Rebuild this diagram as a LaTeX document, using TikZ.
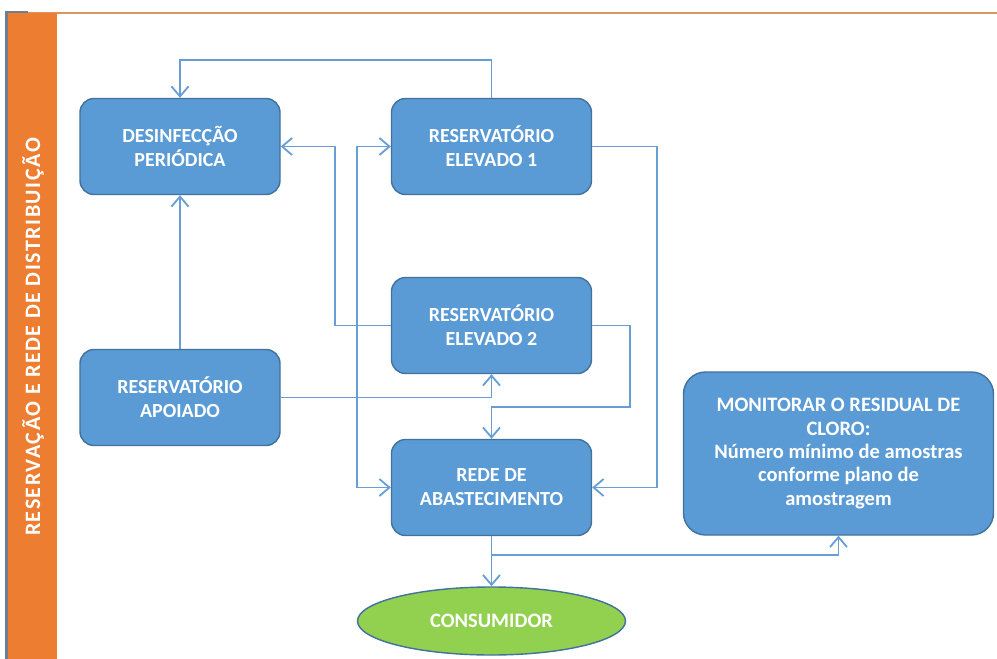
\documentclass[tikz,border=0pt]{standalone}
\usepackage{fontspec}
\setmainfont{Carlito}
\usetikzlibrary{arrows.meta,shapes.geometric}

\definecolor{boxfill}{RGB}{91,155,213}
\definecolor{boxline}{RGB}{65,113,156}
\definecolor{flow}{RGB}{103,158,214}
\definecolor{greenfill}{RGB}{146,208,80}
\definecolor{bandfill}{RGB}{237,125,49}
\definecolor{bandline}{RGB}{217,150,96}
\definecolor{bandedge}{RGB}{110,125,145}

\begin{document}
\begin{tikzpicture}[x=1pt,y=-1pt,
  stepbox/.style={draw=boxline,line width=1.4pt,fill=boxfill,rounded corners=14pt,
    text=white,font=\bfseries\fontsize{20}{24}\selectfont,align=center,
    minimum width=200pt,minimum height=96pt,inner sep=0pt},
  endbox/.style={ellipse,draw=boxline,line width=1.4pt,fill=greenfill,
    text=white,font=\bfseries\fontsize{20.5}{24}\selectfont,
    minimum width=268pt,minimum height=68pt,inner sep=0pt},
  link/.style={draw=flow,line width=1.8pt},
  arrowlink/.style={link,-{Straight Barb[length=10pt,width=17pt,line width=1.8pt]}}
]
\useasboundingbox (0,0) rectangle (997,659);
\fill[white] (0,0) rectangle (997,659);

% side band and top rule
\draw[bandline,line width=2pt] (8,13) -- (997,13);
\fill[bandfill] (8,13) rectangle (57,659);
\draw[bandedge,line width=2.5pt] (6.5,659) -- (6.5,12) -- (28,12);
\node[rotate=90,text=white,font=\bfseries\fontsize{22}{26}\selectfont\addfontfeature{LetterSpace=7}] (band) at (33,337)
  {RESERVAÇÃO E REDE DE DISTRIBUIÇÃO};

% process boxes
\node[stepbox] (desinf) at (180,146.5) {DESINFECÇÃO\\PERIÓDICA};
\node[stepbox] (elev1) at (491.5,146.5) {RESERVATÓRIO\\ELEVADO 1};
\node[stepbox] (elev2) at (491.5,325.5) {RESERVATÓRIO\\ELEVADO 2};
\node[stepbox] (apoiado) at (180,397.5) {RESERVATÓRIO\\APOIADO};
\node[stepbox] (rede) at (491.5,487.5) {REDE DE\\ABASTECIMENTO};
\node[stepbox,minimum width=310pt,minimum height=163pt,rounded corners=22pt,
  font=\bfseries\fontsize{20.5}{23.3}\selectfont] (monitor) at (838.5,453.5)
  {MONITORAR O RESIDUAL DE\\CLORO:\\Número mínimo de amostras\\conforme plano de\\amostragem};
\node[endbox] (consumidor) at (491.5,621) {CONSUMIDOR};

% junction points
\coordinate (jA) at (357,397.5);
\coordinate (jR) at (491.5,555);

% connectors
\draw[arrowlink] (elev1.north) |- (180,60) -- (desinf.north);
\draw[arrowlink] (elev2.west) -| (335,146.5) -- (desinf.east);
\draw[arrowlink] (apoiado.north) -- (desinf.south);
\draw[arrowlink] (apoiado.east) -| (elev2.south);
\draw[arrowlink] (jA) |- (elev1.west);
\draw[arrowlink] (jA) |- (rede.west);
\draw[arrowlink] (elev1.east) -| (657,487.5) -- (rede.east);
\draw[arrowlink] (elev2.east) -| (630,407) -| (rede.north);
\draw[arrowlink] (rede.south) -- (consumidor.north);
\draw[arrowlink] (jR) -| (monitor.south);
\end{tikzpicture}
\end{document}
